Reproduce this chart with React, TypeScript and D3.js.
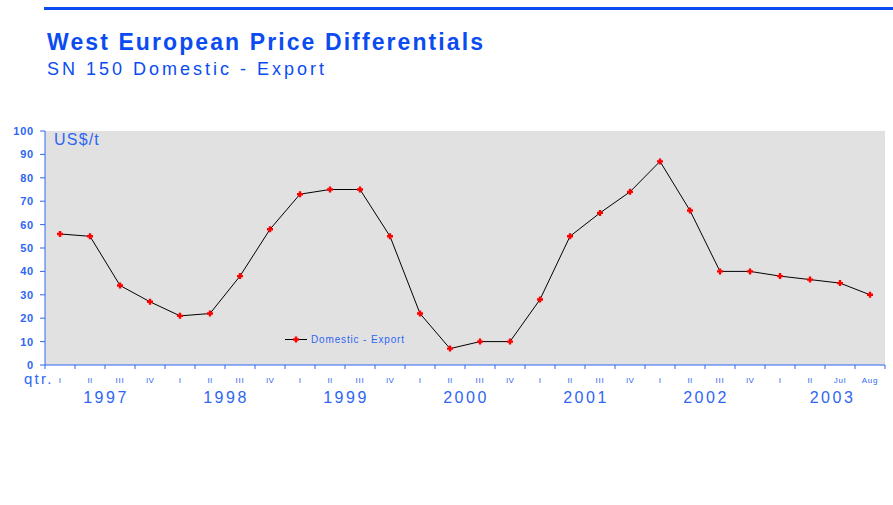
import React from "react";
import * as d3 from "d3";

const categories = [
  "1997-I", "1997-II", "1997-III", "1997-IV",
  "1998-I", "1998-II", "1998-III", "1998-IV",
  "1999-I", "1999-II", "1999-III", "1999-IV",
  "2000-I", "2000-II", "2000-III", "2000-IV",
  "2001-I", "2001-II", "2001-III", "2001-IV",
  "2002-I", "2002-II", "2002-III", "2002-IV",
  "2003-I", "2003-II", "2003-Jul", "2003-Aug",
];
const periodLabels = [
  "I", "II", "III", "IV", "I", "II", "III", "IV", "I", "II", "III", "IV",
  "I", "II", "III", "IV", "I", "II", "III", "IV", "I", "II", "III", "IV",
  "I", "II", "Jul", "Aug",
];
const years = ["1997", "1998", "1999", "2000", "2001", "2002", "2003"];
const domesticExport = [
  56, 55, 34, 27, 21, 22, 38, 58, 73, 75, 75, 55,
  22, 7, 10, 10, 28, 55, 65, 74, 87, 66, 40, 40,
  38, 36.5, 35, 30,
];
const yTicks = [0, 10, 20, 30, 40, 50, 60, 70, 80, 90, 100];

const W = 893;
const H = 505;
const plot = { left: 45, right: 885, top: 131, bottom: 365 };
const TITLE_BLUE = "#0b4cf2";
const AXIS_BLUE = "#2e66f2";
const FONT = "'Liberation Sans', Arial, sans-serif";

export default function App() {
  const x = d3.scaleBand<string>().domain(categories).range([plot.left, plot.right]).padding(0);
  const y = d3.scaleLinear().domain([0, 100]).range([plot.bottom, plot.top]);
  const cx = (i: number) => (x(categories[i]) as number) + x.bandwidth() / 2;
  const line = d3
    .line<number>()
    .x((_, i) => cx(i))
    .y((d) => y(d));

  const boundaries = d3.range(categories.length + 1).map((i) => plot.left + i * x.bandwidth());

  const marker = (px: number, py: number, key: string | number) => (
    <path
      key={key}
      d={`M${px - 3},${py - 1.2}H${px - 1.2}V${py - 3}H${px + 1.2}V${py - 1.2}H${px + 3}V${py + 1.2}H${px + 1.2}V${py + 3}H${px - 1.2}V${py + 1.2}H${px - 3}Z`}
      fill="#ff0000"
    />
  );

  return (
    <svg width={W} height={H} style={{ position: "absolute", left: 0, top: 0, background: "#fff" }} fontFamily={FONT}>
      <rect x={44} y={7} width={W - 44} height={3} fill={TITLE_BLUE} />
      <text x={47} y={50} fontSize={23} fontWeight="bold" fill={TITLE_BLUE} textLength={436} lengthAdjust="spacing">
        West European Price Differentials
      </text>
      <text x={47} y={75} fontSize={18} fill={TITLE_BLUE} textLength={277} lengthAdjust="spacing">
        SN 150 Domestic - Export
      </text>

      <rect x={plot.left} y={plot.top} width={plot.right - plot.left} height={plot.bottom - plot.top} fill="#e1e1e1" />

      {/* y axis */}
      <line x1={plot.left} x2={plot.left} y1={plot.top} y2={plot.bottom} stroke={AXIS_BLUE} strokeWidth={1} />
      {yTicks.map((t) => (
        <g key={t}>
          <line x1={plot.left - 5} x2={plot.left} y1={y(t)} y2={y(t)} stroke={AXIS_BLUE} />
          <text x={34} y={y(t) + 4} fontSize={11} fontWeight="bold" textAnchor="end" fill={AXIS_BLUE} letterSpacing={0.8}>
            {t}
          </text>
        </g>
      ))}
      <text x={54} y={145} fontSize={16} fill={AXIS_BLUE} letterSpacing={1.2}>
        US$/t
      </text>

      {/* x axis */}
      <line x1={plot.left} x2={plot.right} y1={plot.bottom} y2={plot.bottom} stroke={AXIS_BLUE} strokeWidth={1.2} />
      {boundaries.map((bx, i) => (
        <line key={i} x1={bx} x2={bx} y1={plot.bottom} y2={plot.bottom + 4} stroke={AXIS_BLUE} />
      ))}
      <text x={24} y={384} fontSize={15} fill={AXIS_BLUE} letterSpacing={2.2}>
        qtr.
      </text>
      {periodLabels.map((p, i) => (
        <text key={i} x={cx(i)} y={383} fontSize={8} textAnchor="middle" fill={AXIS_BLUE} letterSpacing={p.length > 2 ? 0.8 : 0.3}>
          {p}
        </text>
      ))}
      {years.map((yr, k) => (
        <text
          key={yr}
          x={plot.left + (k * 4 + 2) * x.bandwidth() + (k === years.length - 1 ? 7.5 : 1)}
          y={403}
          fontSize={16}
          textAnchor="middle"
          fill={AXIS_BLUE}
          letterSpacing={2.5}
        >
          {yr}
        </text>
      ))}

      {/* series */}
      <path d={line(domesticExport) || ""} fill="none" stroke="#000" strokeWidth={1} />
      {domesticExport.map((v, i) => marker(cx(i), y(v), i))}

      {/* legend */}
      <line x1={285} x2={307} y1={339.5} y2={339.5} stroke="#000" />
      {marker(296, 339.5, "leg")}
      <text x={311} y={343} fontSize={10} fill={AXIS_BLUE} letterSpacing={0.85}>
        Domestic - Export
      </text>
    </svg>
  );
}
